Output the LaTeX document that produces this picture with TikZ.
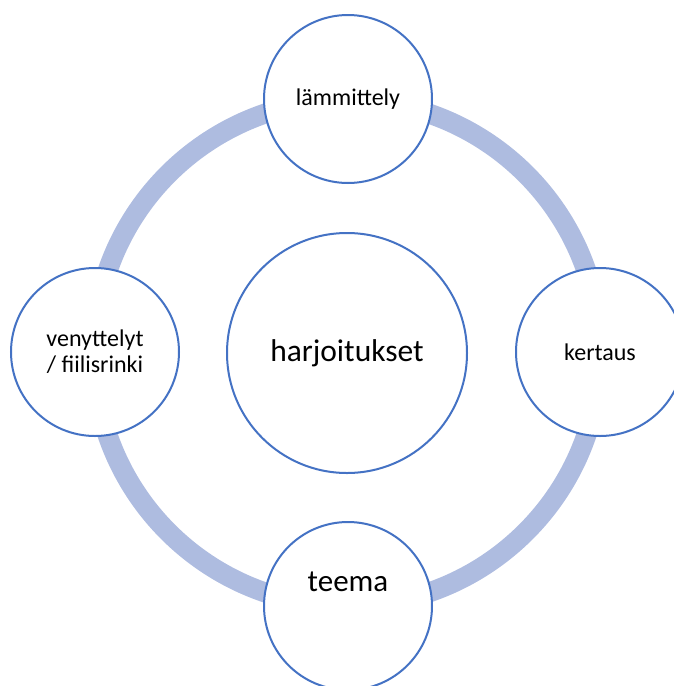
\documentclass[tikz,border=0pt]{standalone}
\usepackage{fontspec}
\setmainfont{Carlito}
\usepackage{tikz}
\usetikzlibrary{positioning}
\definecolor{rimblue}{RGB}{68,114,196}
\definecolor{ringblue}{RGB}{174,188,224}

\begin{document}
\begin{tikzpicture}[x=1pt, y=-1pt,
  phase/.style={circle, draw=rimblue, line width=2pt, fill=white, minimum size=168pt, inner sep=0pt, align=center, font=\fontsize{24}{26}\selectfont},
  hub/.style={phase, minimum size=240pt, font=\fontsize{31.5}{38}\selectfont},
  ring/.style={draw=ringblue, line width=20pt}]
\useasboundingbox (0,0) rectangle (674,686);
\clip (0,0) rectangle (674,686);
\coordinate (c) at (347,353);
\draw[ring] (c) circle (253);
\node[hub] (harj) at (c) {harjoitukset};
\node[phase] (lamm) at (348,99) {lämmittely};
\node[phase] (kert) at (600,352) {kertaus};
\node[phase] (teema) at (348,606) {};
\node[phase] (veny) at (95,352) {venyttelyt\\/ fiilisrinki};
\node[font=\fontsize{31}{37}\selectfont] (teemateksti) at (348,582) {teema};
\end{tikzpicture}
\end{document}
